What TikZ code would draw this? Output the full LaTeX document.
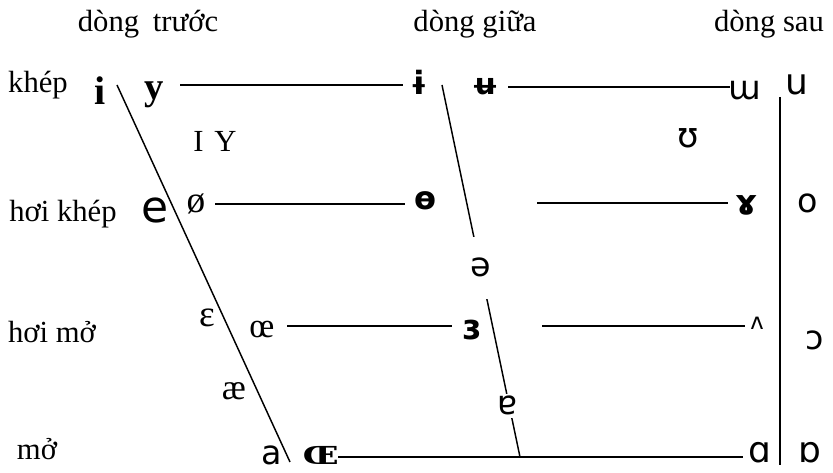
\documentclass[tikz,border=0pt]{standalone}
\usepackage{fontspec}
\setmainfont{Liberation Serif}
\newfontfamily\ipafont{DejaVu Sans}
\newfontfamily\ipaserif{DejaVu Serif}

\begin{document}
\begin{tikzpicture}[x=0.75pt, y=-0.75pt, every node/.style={inner sep=0pt, anchor=base}]
    % Define styles
    \tikzset{
      lbl/.style={font=\fontsize{23}{26}\selectfont},
      ipa/.style={font=\ipafont\fontsize{#1}{#1}\selectfont}, ipa/.default=24,
      ipab/.style={font=\ipafont\bfseries\fontsize{#1}{#1}\selectfont}, ipab/.default=18,
      srf/.style={font=\fontsize{#1}{#1}\selectfont}, srf/.default=22,
      srfb/.style={font=\bfseries\fontsize{#1}{#1}\selectfont}, srfb/.default=22,
      rule/.style={line width=1.1pt}
    }
    \useasboundingbox (0,0) rectangle (833,473);

    % Column and row labels
    \node[lbl] (front) at (148,32) {dòng\hspace{0.45em}trước};
    \node[lbl] (central) at (475,32) {dòng giữa};
    \node[lbl] (back) at (769,32) {dòng sau};
    \node[lbl] (close) at (38,93) {khép};
    \node[lbl] (closemid) at (63,222) {hơi khép};
    \node[lbl] (openmid) at (52,343) {hơi mở};
    \node[lbl] (open) at (37,460) {mở};

    % Line ends
    \coordinate (frontTop) at (117,85);
    \coordinate (frontBot) at (290,462);
    \coordinate (midTop) at (442,85);
    \coordinate (midBot) at (520,457);
    \coordinate (backTop) at (780,97);
    \coordinate (backBot) at (780,465);
    \coordinate (r1a) at (180,85);  \coordinate (r1b) at (403,85);
    \coordinate (r1c) at (508,87);  \coordinate (r1d) at (730,87);
    \coordinate (r2a) at (215,204); \coordinate (r2b) at (405,204);
    \coordinate (r2c) at (537,203); \coordinate (r2d) at (728,203);
    \coordinate (r3a) at (287,326); \coordinate (r3b) at (452,326);
    \coordinate (r3c) at (542,326); \coordinate (r3d) at (745,326);
    \coordinate (r4a) at (338,457); \coordinate (r4b) at (743,457);

    % Lines
    \draw[rule] (frontTop) -- (frontBot);
    \draw[rule] (midTop) -- (midBot);
    \draw[rule] (backTop) -- (backBot);
    \draw[rule] (r1a) -- (r1b);
    \draw[rule] (r1c) -- (r1d);
    \draw[rule] (r2a) -- (r2b);
    \draw[rule] (r2c) -- (r2d);
    \draw[rule] (r3a) -- (r3b);
    \draw[rule] (r3c) -- (r3d);
    \draw[rule] (r4a) -- (r4b);

    % Vowels, row 1
    \node[srfb=30] (vi) at (100,105) {i};
    \node[srfb=29] (vy) at (154,100) {y};
    \node[ipab=24] (vibar) at (419,95) {ɨ};
    \node[ipab=22] (vubar) at (485,95) {ʉ};
    \node[ipa=25] (vturnm) at (745,100) {ɯ};
    \node[ipa=27] (vu) at (797,95) {u};
    \node[srf=23] (vIY) at (215,152) {I\hspace{0.35em}Y};
    \node[ipa=26] (vupsilon) at (688,148) {ʊ};

    % Vowels, row 2
    \node[ipa=33] (ve) at (155,223) {e};
    \node[srf=28] (voslash) at (196,213) {ø};
    \node[ipab=24] (vbarro) at (425,210) {ɵ};
    \node[ipab=26] (vramshorn) at (747,215) {ɤ};
    \node[ipa=25] (vo) at (808,213) {o};
    \node[ipa=25, fill=white, inner ysep=16pt, inner xsep=2pt] (vschwa) at (481,277) {ə};

    % Vowels, row 3
    \node[srf=28] (veps) at (207,327) {ε};
    \node[srf=26] (voe) at (262,338) {œ};
    \node[ipab=26] (vrevep) at (472,340) {ɜ};
    \node[ipa=17] (vwedge) at (757,330) {ʌ};
    \node[ipa=25] (vopeno) at (815,350) {ɔ};
    \node[srf=27] (vae) at (234,400) {æ};
    \node[ipa=25, fill=white, inner ysep=2pt, inner xsep=1pt] (vturna) at (507,415) {ɐ};

    % Vowels, row 4
    \node[ipa=25] (va) at (272,465) {a};
    \node[font=\ipaserif\bfseries\fontsize{26}{26}\selectfont] (vscoe) at (321,465) {ɶ};
    \node[ipa=27] (valpha) at (760,463) {ɑ};
    \node[ipa=27] (vturnalpha) at (810,463) {ɒ};
\end{tikzpicture}
\end{document}
